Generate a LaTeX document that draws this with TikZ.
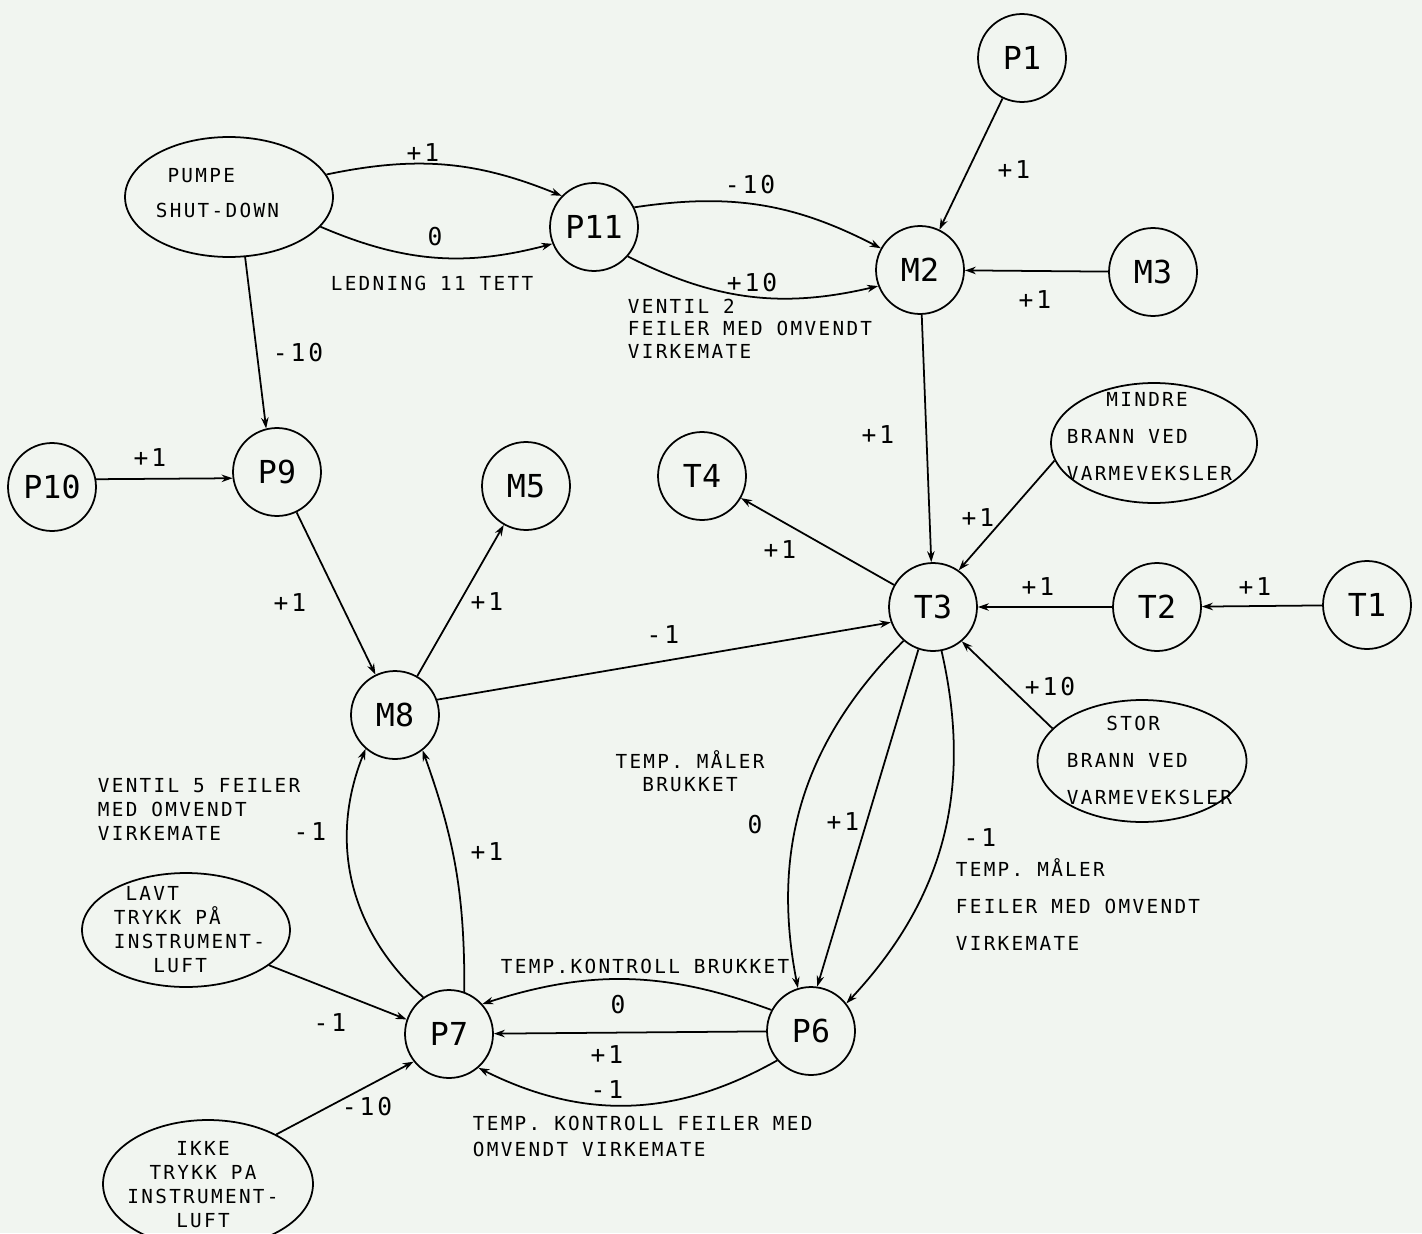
\documentclass[tikz,border=0pt]{standalone}
\usepackage{fontspec}
\newfontfamily\plotfont{DejaVu Sans Mono}
\newfontfamily\plotwide[LetterSpace=12]{DejaVu Sans Mono}
\usetikzlibrary{shapes.geometric,arrows.meta}
\definecolor{paper}{RGB}{241,245,240}

\begin{document}
\begin{tikzpicture}[x=0.02cm, y=-0.02cm, line width=1pt,
  state/.style={circle, draw, minimum size=1.76cm, inner sep=0pt,
    font=\plotfont\fontsize{18}{18}\selectfont},
  event/.style={ellipse, draw, inner sep=0pt},
  wt/.style={font=\plotwide\fontsize{14}{14}\selectfont, inner sep=0pt},
  txt/.style={font=\plotwide\fontsize{11}{#1}\selectfont, inner sep=0pt,
    align=left, anchor=north west},
  txt/.default=13.2,
  ctxt/.style={txt=#1, align=center, anchor=north},
  arr/.style={-{Stealth[length=2.2mm,width=1.5mm]}}]
  \fill[paper] (0,0) rectangle (1422,1233);
  \useasboundingbox (0,0) rectangle (1422,1233);

  % tilstandsvariable
  \node[state] (p1) at (1022,58) {P1};
  \node[state] (m2) at (920,270) {M2};
  \node[state] (m3) at (1153,272) {M3};
  \node[state] (p11) at (594,227) {P11};
  \node[state] (p9) at (277,472) {P9};
  \node[state] (p10) at (52,487) {P10};
  \node[state] (m5) at (526,486) {M5};
  \node[state] (t4) at (702,476) {T4};
  \node[state] (m8) at (395,715) {M8};
  \node[state] (t3) at (933,607) {T3};
  \node[state] (t2) at (1157,607) {T2};
  \node[state] (t1) at (1367,605) {T1};
  \node[state] (p6) at (811,1031) {P6};
  \node[state] (p7) at (449,1034) {P7};

  % hendelser -- teksten settes for seg, den går ut over ellipsen
  \node[event, minimum width=4.16cm, minimum height=2.4cm] (pumpe) at (229,197) {};
  \node[txt=19.9] (pumpetxt) at (155,168) {\hphantom{S}PUMPE\\SHUT-DOWN};
  \node[event, minimum width=4.12cm, minimum height=2.4cm] (mindre) at (1154,443) {};
  \node[txt=20.8] (mindretxt) at (1066,392) {\hphantom{BRA}MINDRE\\BRANN VED\\VARMEVEKSLER};
  \node[event, minimum width=4.18cm, minimum height=2.44cm] (stor) at (1142,761) {};
  \node[txt=21] (stortxt) at (1066,715) {\hphantom{BRA}STOR\\BRANN VED\\VARMEVEKSLER};
  \node[event, minimum width=4.16cm, minimum height=2.28cm] (lavt) at (186,930) {};
  \node[txt=13.6] (lavttxt) at (113,886) {\hphantom{I}LAVT\\TRYKK PÅ\\INSTRUMENT-\\\hphantom{INS}LUFT};
  \node[event, minimum width=4.2cm, minimum height=2.56cm] (ikke) at (208,1184) {};
  \node[ctxt=13.6] (ikketxt) at (203,1141) {IKKE\\TRYKK PA\\INSTRUMENT-\\LUFT};

  % fortegnsgrafen
  \draw[arr] (pumpe.13) to[bend left=17] (p11.136);
  \draw[arr] (pumpe.-18) to[bend right=19] (p11.202);
  \draw[arr] (pumpe.-75) -- (p9.104);
  \draw[arr] (p10.10) -- (p9.188);
  \draw[arr] (p11.26) to[bend left=18] (m2.151);
  \draw[arr] (p11.-41) to[bend right=20] (m2.201);
  \draw[arr] (p1) -- (m2);
  \draw[arr] (m3) -- (m2);
  \draw[arr] (m2) -- (t3);
  \draw[arr] (mindre.190) -- (t3.55);
  \draw[arr] (t2) -- (t3);
  \draw[arr] (t1) -- (t2);
  \draw[arr] (stor.160) -- (t3.-50);
  \draw[arr] (t3) -- (t4);
  \draw[arr] (m8.20) -- (t3.200);
  \draw[arr] (p9) -- (m8);
  \draw[arr] (m8) -- (m5);
  \draw[arr] (t3.229) to[bend right=28] (p6.107);
  \draw[arr] (t3.251) -- (p6.82);
  \draw[arr] (t3.-79) to[bend left=28] (p6.38);
  \draw[arr] (p6.152) to[bend right=19] (p7.42);
  \draw[arr] (p6) -- (p7);
  \draw[arr] (p6.221) to[bend left=28] (p7.-49);
  \draw[arr] (lavt.-23) -- (p7.161);
  \draw[arr] (ikke.36) -- (p7.218);
  \draw[arr] (p7.125) to[bend left=35] (m8.229);
  \draw[arr] (p7.70) to[bend right=10] (m8.-52);

  % vekter
  \node[wt] (w1) at (423,153) {+1};
  \node[wt] (w2) at (435,237) {0};
  \node[wt] (w3) at (298,353) {-10};
  \node[wt] (w4) at (150,458) {+1};
  \node[wt] (w5) at (750,185) {-10};
  \node[wt] (w6) at (752,283) {+10};
  \node[wt] (w7) at (1014,170) {+1};
  \node[wt] (w8) at (1035,300) {+1};
  \node[wt] (w9) at (878,435) {+1};
  \node[wt] (w10) at (978,518) {+1};
  \node[wt] (w11) at (780,550) {+1};
  \node[wt] (w12) at (663,635) {-1};
  \node[wt] (w13) at (1038,587) {+1};
  \node[wt] (w14) at (1255,587) {+1};
  \node[wt] (w15) at (1050,687) {+10};
  \node[wt] (w16) at (290,603) {+1};
  \node[wt] (w17) at (487,602) {+1};
  \node[wt] (w18) at (755,825) {0};
  \node[wt] (w19) at (843,822) {+1};
  \node[wt] (w20) at (980,838) {-1};
  \node[wt] (w21) at (310,832) {-1};
  \node[wt] (w22) at (487,852) {+1};
  \node[wt] (w23) at (330,1023) {-1};
  \node[wt] (w24) at (367,1107) {-10};
  \node[wt] (w25) at (618,1005) {0};
  \node[wt] (w26) at (607,1055) {+1};
  \node[wt] (w27) at (607,1090) {-1};

  % forklaringer til kantene
  \node[ctxt] (ledning) at (432,275) {LEDNING 11 TETT};
  \node[txt=12.8] (ventil2) at (627,298) {VENTIL 2\\FEILER MED OMVENDT\\VIRKEMATE};
  \node[txt=13.4] (ventil5) at (97,778) {VENTIL 5 FEILER\\MED OMVENDT\\VIRKEMATE};
  \node[ctxt=13] (maler) at (690,750) {TEMP. MÅLER\\BRUKKET};
  \node[txt=21] (malerrev) at (955,858) {TEMP. MÅLER\\FEILER MED OMVENDT\\VIRKEMATE};
  \node[txt] (kontroll) at (500,958) {TEMP.KONTROLL BRUKKET};
  \node[txt=14.8] (kontrollrev) at (472,1115) {TEMP. KONTROLL FEILER MED\\OMVENDT VIRKEMATE};
\end{tikzpicture}
\end{document}
